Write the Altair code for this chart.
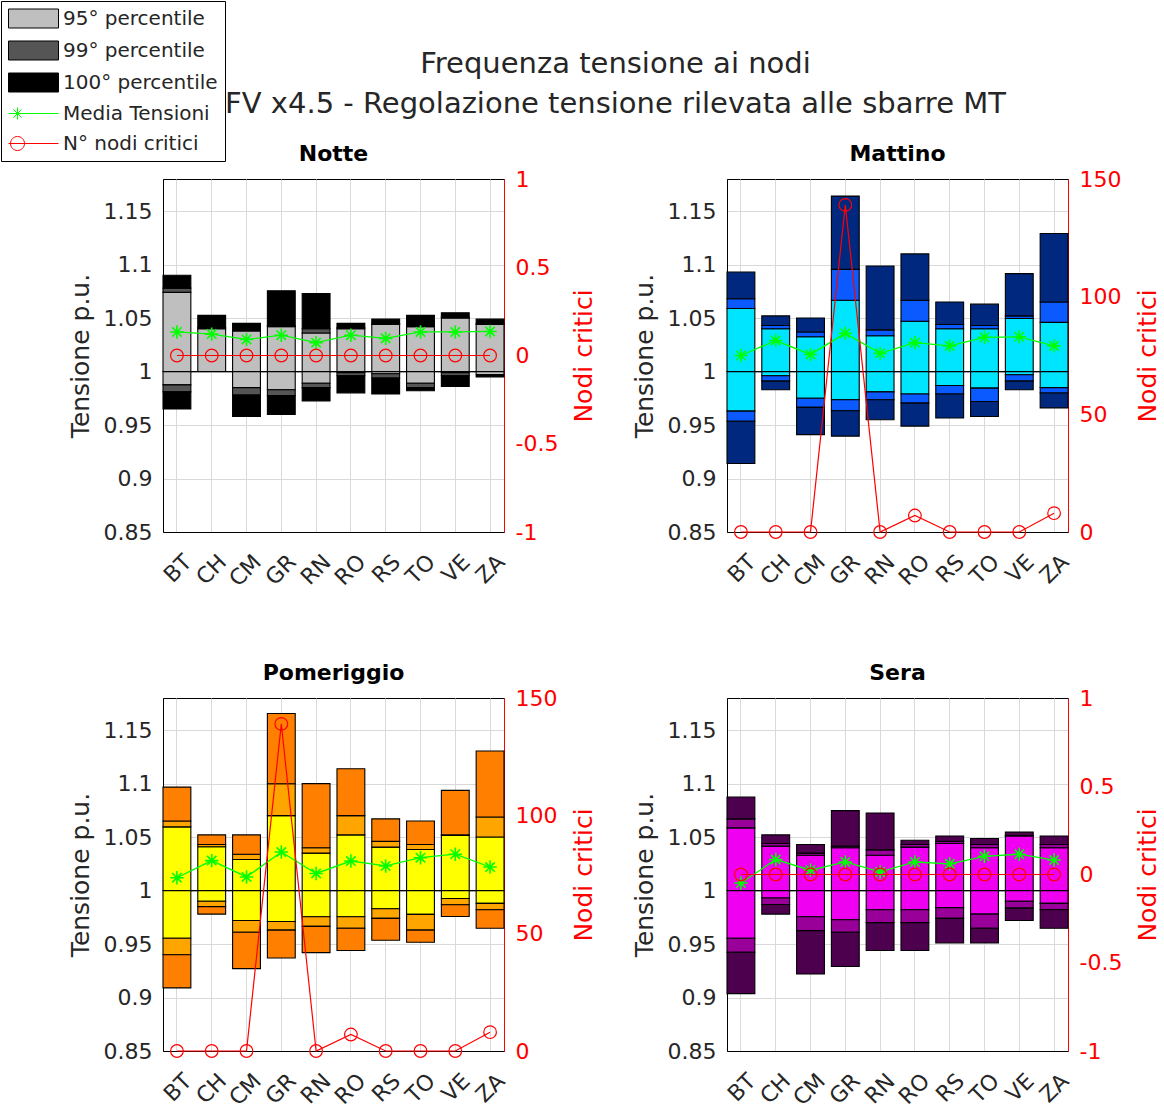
import altair as alt
import pandas as pd

FONT = "DejaVu Sans"
TXT = "#262626"

cats = ["BT", "CH", "CM", "GR", "RN", "RO", "RS", "TO", "VE", "ZA"]

# ---- Notte ----
notte_max  = [1.090, 1.0525, 1.045, 1.0756, 1.073, 1.045, 1.049, 1.0525, 1.055, 1.049]
notte_p99u = [1.078, 1.041, 1.039, 1.043, 1.040, 1.041, 1.045, 1.043, 1.051, 1.045]
notte_p95u = [1.074, 1.040, 1.038, 1.042, 1.036, 1.040, 1.044, 1.042, 1.050, 1.044]
notte_p95l = [0.9875, 1.000, 0.985, 0.983, 0.989, 0.999, 0.998, 0.989, 0.999, 0.997]
notte_p99l = [0.981, 1.000, 0.978, 0.9775, 0.985, 0.996, 0.994, 0.985, 0.996, 0.997]
notte_min  = [0.965, 1.000, 0.958, 0.960, 0.9725, 0.980, 0.979, 0.982, 0.986, 0.995]
notte_mean = [1.037, 1.035, 1.030, 1.034, 1.027, 1.034, 1.031, 1.037, 1.037, 1.0375]
notte_nodi = [0, 0, 0, 0, 0, 0, 0, 0, 0, 0]

# ---- Mattino ----
mattino_max  = [1.093, 1.052, 1.050, 1.164, 1.0986, 1.110, 1.065, 1.063, 1.0915, 1.129]
mattino_p99u = [1.068, 1.043, 1.037, 1.0955, 1.039, 1.0667, 1.044, 1.043, 1.052, 1.065]
mattino_p95u = [1.059, 1.040, 1.0325, 1.0667, 1.0335, 1.047, 1.040, 1.040, 1.0496, 1.046]
mattino_p95l = [0.963, 0.996, 0.975, 0.9736, 0.981, 0.979, 0.987, 0.9845, 0.997, 0.985]
mattino_p99l = [0.9535, 0.991, 0.9665, 0.9634, 0.9736, 0.9705, 0.979, 0.972, 0.991, 0.980]
mattino_min  = [0.914, 0.983, 0.941, 0.9396, 0.955, 0.949, 0.9566, 0.958, 0.983, 0.966]
mattino_mean = [1.015, 1.029, 1.016, 1.0357, 1.017, 1.027, 1.024, 1.032, 1.0325, 1.024]
mattino_nodi = [0, 0, 0, 139, 0, 7, 0, 0, 0, 8]

# ---- Pomeriggio ----
pom_max  = [1.0967, 1.052, 1.052, 1.1655, 1.100, 1.1138, 1.067, 1.065, 1.0936, 1.1305]
pom_p99u = [1.065, 1.043, 1.034, 1.0998, 1.040, 1.070, 1.046, 1.043, 1.052, 1.0688]
pom_p95u = [1.0595, 1.041, 1.029, 1.070, 1.035, 1.052, 1.0406, 1.0384, 1.0515, 1.050]
pom_p95l = [0.9554, 0.990, 0.972, 0.971, 0.9755, 0.9755, 0.983, 0.9777, 0.9926, 0.988]
pom_p99l = [0.940, 0.985, 0.961, 0.963, 0.9665, 0.9647, 0.974, 0.963, 0.9867, 0.982]
pom_min  = [0.909, 0.978, 0.927, 0.937, 0.942, 0.944, 0.9535, 0.9516, 0.9758, 0.9647]
pom_mean = [1.012, 1.028, 1.0127, 1.036, 1.016, 1.0276, 1.023, 1.0307, 1.034, 1.022]
pom_nodi = [0, 0, 0, 139, 0, 7, 0, 0, 0, 8]

# ---- Sera ----
sera_max  = [1.0874, 1.052, 1.043, 1.0747, 1.0725, 1.047, 1.051, 1.0487, 1.0546, 1.051]
sera_p99u = [1.067, 1.044, 1.035, 1.0415, 1.038, 1.043, 1.046, 1.043, 1.0515, 1.043]
sera_p95u = [1.0586, 1.0415, 1.033, 1.040, 1.033, 1.0406, 1.044, 1.040, 1.051, 1.040]
sera_p95l = [0.9554, 0.993, 0.9755, 0.9727, 0.982, 0.982, 0.984, 0.978, 0.990, 0.988]
sera_p99l = [0.9423, 0.987, 0.9625, 0.961, 0.970, 0.970, 0.974, 0.9647, 0.9836, 0.982]
sera_min  = [0.9036, 0.978, 0.922, 0.929, 0.944, 0.944, 0.951, 0.951, 0.972, 0.9647]
sera_mean = [1.007, 1.029, 1.019, 1.0267, 1.0174, 1.0267, 1.025, 1.032, 1.034, 1.0285]
sera_nodi = [0, 0, 0, 0, 0, 0, 0, 0, 0, 0]

series = ["95° percentile", "99° percentile", "100° percentile", "Media Tensioni", "N° nodi critici"]

# ---- styles ----
PALETTES = {
    "Notte": {"95": "#bfbfbf", "99": "#555555", "100": "#000000"},
    "Mattino": {"95": "#00e5ff", "99": "#0a5aff", "100": "#00287f"},
    "Pomeriggio": {"95": "#ffff00", "99": "#ffa500", "100": "#ff8000"},
    "Sera": {"95": "#f000f0", "99": "#990099", "100": "#4d004d"},
}
LEG_FILL = ["#bfbfbf", "#555555", "#000000", "transparent", "transparent"]
LEG_STROKE = ["#000000", "#000000", "#000000", "#00ff00", "#ff0000"]
LEG_SHAPE = [
    "M-2.5,-0.95H2.5V0.95H-2.5Z",
    "M-2.5,-0.95H2.5V0.95H-2.5Z",
    "M-2.5,-0.95H2.5V0.95H-2.5Z",
    "M-2.5,0H2.5M-2.2,0H-1M-1.6,-0.6V0.6M-2.02,-0.42L-1.18,0.42M-2.02,0.42L-1.18,-0.42",
    "M-2.5,0H2.5M-2.3,0A0.7,0.7,0,1,0,-0.9,0A0.7,0.7,0,1,0,-2.3,0",
]
ASTER = "M-1,0H1M0,-1V1M-0.7,-0.7L0.7,0.7M-0.7,0.7L0.7,-0.7"

YDOM = [0.85, 1.18]
YTICKS = [0.85, 0.9, 0.95, 1.0, 1.05, 1.1, 1.15]


def make_panel(name, mx, p99u, p95u, p95l, p99l, mn, mean, nodi, rdom, rticks, with_legend=False):
    pal = PALETTES[name]
    rows = []
    for i, c in enumerate(cats):
        segs = [
            ("95", 1.0, p95u[i]), ("99", p95u[i], p99u[i]), ("100", p99u[i], mx[i]),
            ("95", p95l[i], 1.0), ("99", p99l[i], p95l[i]), ("100", mn[i], p99l[i]),
        ]
        for lev, lo, hi in segs:
            rows.append({"cat": c, "lev": lev, "lo": lo, "hi": hi, "col": pal[lev]})
    seg = pd.DataFrame(rows)
    pts = pd.DataFrame({"cat": cats, "mean": mean, "nodi": nodi})
    ref = pd.DataFrame({"ref": [1.0]})

    xaxis = alt.Axis(title=None, labelAngle=-45, labelAlign="right", labelBaseline="top",
                     labelPadding=19, labelOffset=4, grid=True, ticks=False, domainColor="black")
    xenc = alt.X("cat:N", sort=cats, scale=alt.Scale(domain=cats, paddingInner=0.2, paddingOuter=0), axis=xaxis)
    yscale = alt.Scale(domain=YDOM, nice=False, zero=False)
    yaxis = alt.Axis(title="Tensione p.u.", values=YTICKS, labelExpr="'' + datum.value", grid=True,
                     ticks=False, domainColor="black", minExtent=58, maxExtent=58, titlePadding=12,
                     labelPadding=11)

    def ye(f):
        return alt.Y(f, scale=yscale, axis=yaxis)

    bars = alt.Chart(seg).mark_bar(stroke="black", strokeWidth=1.1).encode(
        x=xenc, y=ye("lo:Q"), y2=alt.Y2("hi:Q"), fill=alt.Fill("col:N", scale=None))
    rule = alt.Chart(ref).mark_rule(color="black", strokeWidth=1.3).encode(y=ye("ref:Q"))
    gline = alt.Chart(pts).mark_line(color="#00ff00", strokeWidth=1.3).encode(x=xenc, y=ye("mean:Q"))
    gpts = alt.Chart(pts).mark_point(shape=ASTER, size=180, filled=False, color="#00ff00",
                                     strokeWidth=1.6, opacity=1).encode(x=xenc, y=ye("mean:Q"))
    inner = alt.layer(bars, rule, gline, gpts)

    rscale = alt.Scale(domain=rdom, nice=False, zero=False)
    raxis = alt.Axis(title="Nodi critici", orient="right", values=rticks, labelExpr="'' + datum.value",
                     grid=False, ticks=False, domainColor="red", labelColor="red", titleColor="red",
                     titleAngle=270, titleBaseline="top", minExtent=52, maxExtent=52, titlePadding=15,
                     labelPadding=11)
    rline = alt.Chart(pts).mark_line(color="red", strokeWidth=1.2).encode(
        x=xenc, y=alt.Y("nodi:Q", scale=rscale, axis=raxis))
    rpts = alt.Chart(pts).mark_point(shape="circle", size=160, filled=False, color="red",
                                     strokeWidth=1.2, opacity=1).encode(
        x=xenc, y=alt.Y("nodi:Q", scale=rscale, axis=raxis))
    red = alt.layer(rline, rpts)

    layers = [inner, red]
    if with_legend:
        leg = dict(orient="none", legendX=-162, legendY=-178, title=None)
        carrier = alt.Chart(pd.DataFrame({"serie": series})).mark_point(
            filled=True, opacity=0, strokeWidth=1).encode(
            fill=alt.Fill("serie:N", scale=alt.Scale(domain=series, range=LEG_FILL), legend=alt.Legend(**leg)),
            stroke=alt.Stroke("serie:N", scale=alt.Scale(domain=series, range=LEG_STROKE), legend=alt.Legend(**leg)),
            shape=alt.Shape("serie:N", scale=alt.Scale(domain=series, range=LEG_SHAPE), legend=alt.Legend(**leg)),
        )
        layers.append(carrier)

    return alt.layer(*layers).resolve_scale(y="independent").properties(
        width=341, height=353,
        title=alt.TitleParams(name, font=FONT, fontSize=22, fontWeight="bold", color="black",
                              offset=-20, baseline="bottom", anchor="middle", frame="group"),
    )


p1 = make_panel("Notte", notte_max, notte_p99u, notte_p95u, notte_p95l, notte_p99l, notte_min,
                notte_mean, notte_nodi, [-1, 1], [-1, -0.5, 0, 0.5, 1], with_legend=True)
p2 = make_panel("Mattino", mattino_max, mattino_p99u, mattino_p95u, mattino_p95l, mattino_p99l, mattino_min,
                mattino_mean, mattino_nodi, [0, 150], [0, 50, 100, 150])
p3 = make_panel("Pomeriggio", pom_max, pom_p99u, pom_p95u, pom_p95l, pom_p99l, pom_min,
                pom_mean, pom_nodi, [0, 150], [0, 50, 100, 150])
p4 = make_panel("Sera", sera_max, sera_p99u, sera_p95u, sera_p95l, sera_p99l, sera_min,
                sera_mean, sera_nodi, [-1, 1], [-1, -0.5, 0, 0.5, 1])

chart = alt.concat(p1, p2, p3, p4, columns=2, spacing={"row": 166, "column": 223}, bounds="flush").properties(
    title=alt.TitleParams(
        ["Frequenza tensione ai nodi", "FV x4.5 - Regolazione tensione rilevata alle sbarre MT"],
        font=FONT, fontSize=29, fontWeight="normal", color=TXT, anchor="start", align="center",
        frame="group", dx=452.5, baseline="top", offset=-118, lineHeight=40),
    padding=0,
    background="white",
).configure_view(
    stroke="black", strokeWidth=1
).configure_axis(
    labelFont=FONT, labelFontSize=22, labelColor=TXT,
    titleFont=FONT, titleFontSize=25, titleFontWeight="normal", titleColor=TXT,
    gridColor="#d9d9d9", gridWidth=1, gridOpacity=1, domainWidth=1,
).configure_legend(
    labelFont=FONT, labelFontSize=20, labelColor=TXT, symbolSize=400, symbolStrokeWidth=1,
    symbolOffset=15, labelOffset=19, rowPadding=9, padding=7, strokeColor="black",
    fillColor="white", cornerRadius=0, labelLimit=300, symbolOpacity=1,
)

chart.save("out.html", embed_options={"renderer": "svg", "actions": False})
